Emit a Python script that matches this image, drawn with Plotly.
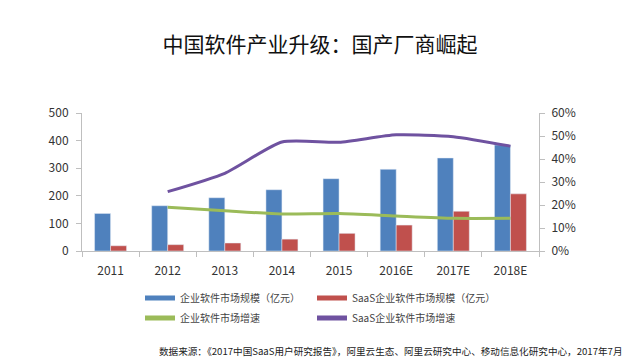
import plotly.graph_objects as go

years = ["2011", "2012", "2013", "2014", "2015", "2016E", "2017E", "2018E"]
ent_size = [136, 164, 193, 222, 262, 296, 337, 384]
saas_size = [19, 23, 29, 43, 64, 94, 144, 207]
ent_growth = [None, 0.190, 0.175, 0.161, 0.163, 0.152, 0.142, 0.142]
saas_growth = [None, 0.258, 0.338, 0.474, 0.473, 0.505, 0.497, 0.456]

names = ["企业软件市场规模（亿元）", "SaaS企业软件市场规模（亿元）", "企业软件市场增速", "SaaS企业软件市场增速"]
colors = ["#4F81BD", "#C0504D", "#9BBB59", "#6F52A0"]
source = "数据来源：《2017中国SaaS用户研究报告》，阿里云生态、阿里云研究中心、移动信息化研究中心，2017年7月"
title = "中国软件产业升级：国产厂商崛起"

FONT = "Noto Sans CJK SC"
OFF = 8  # page offset of the figure (body margin)

fig = go.Figure()
fig.add_trace(go.Bar(x=years, y=ent_size, marker_color=colors[0], showlegend=False))
fig.add_trace(go.Bar(x=years, y=saas_size, marker_color=colors[1], showlegend=False))
fig.add_trace(go.Scatter(x=years, y=ent_growth, yaxis="y2", mode="lines",
                         line=dict(color=colors[2], width=3, shape="spline", smoothing=0.6),
                         showlegend=False))
fig.add_trace(go.Scatter(x=years, y=saas_growth, yaxis="y2", mode="lines",
                         line=dict(color=colors[3], width=3, shape="spline", smoothing=0.6),
                         showlegend=False))

# legend-only proxies (flat swatches like the reference)
legend_ids = ["legend", "legend2", "legend3", "legend4"]
for nm, c, lg in zip(names, colors, legend_ids):
    fig.add_trace(go.Scatter(x=[None], y=[None], mode="lines", name=nm,
                             line=dict(color=c, width=5), legend=lg, showlegend=True))

lfont = dict(family=FONT, size=10, color="#444444")
def leg(x, y):
    return dict(x=x, y=y, xref="paper", yref="paper", xanchor="left", yanchor="middle",
                font=lfont, bgcolor="rgba(0,0,0,0)", itemwidth=30, tracegroupgap=0)

# plot area on the page: x 82..539, y 113..251
def px_to_x(p):
    return (p - 82) / 457
def py_to_y(p):
    return (251 - p) / 138

fig.update_layout(
    width=640, height=360,
    margin=dict(l=82 - OFF, r=640 - 539 + OFF, t=113 - OFF, b=360 - 251 + OFF, autoexpand=False),
    paper_bgcolor="white", plot_bgcolor="white",
    barmode="group", bargap=0.44, bargroupgap=0,
    font=dict(family=FONT, color="#333333"),
    title=dict(text=title, x=(320 - OFF) / 640, xref="container", xanchor="center",
               y=1 - (45 - OFF) / 360, yref="container", yanchor="middle",
               font=dict(family=FONT, size=21, color="#111111")),
    xaxis=dict(type="category", showline=True, linecolor="#BFBFBF", linewidth=1,
               ticks="outside", tickson="boundaries", ticklen=5, tickcolor="#BFBFBF",
               tickfont=dict(family=FONT, size=12, color="#333333"),
               ticklabelstandoff=9, showgrid=False, zeroline=False),
    yaxis=dict(range=[0, 500], dtick=100, showline=True, linecolor="#BFBFBF",
               ticks="outside", ticklen=5, tickcolor="#BFBFBF", showgrid=False,
               zeroline=False, tickfont=dict(family=FONT, size=12, color="#333333"),
               ticklabelstandoff=5),
    yaxis2=dict(range=[0, 0.6], dtick=0.1, tickformat=".0%", overlaying="y", side="right",
                showline=True, linecolor="#BFBFBF", ticks="outside", ticklen=5,
                tickcolor="#BFBFBF", showgrid=False, zeroline=False,
                tickfont=dict(family=FONT, size=12, color="#333333"),
                ticklabelstandoff=4),
    legend=leg(px_to_x(140), py_to_y(298)),
    legend2=leg(px_to_x(312), py_to_y(298)),
    legend3=leg(px_to_x(140), py_to_y(318)),
    legend4=leg(px_to_x(312), py_to_y(318)),
    annotations=[dict(text=source, xref="paper", yref="paper", x=px_to_x(157),
                      y=py_to_y(351), xanchor="left", yanchor="middle", showarrow=False,
                      font=dict(family=FONT, size=9.6, color="#222222"))],
)

fig.write_html("out.html")
